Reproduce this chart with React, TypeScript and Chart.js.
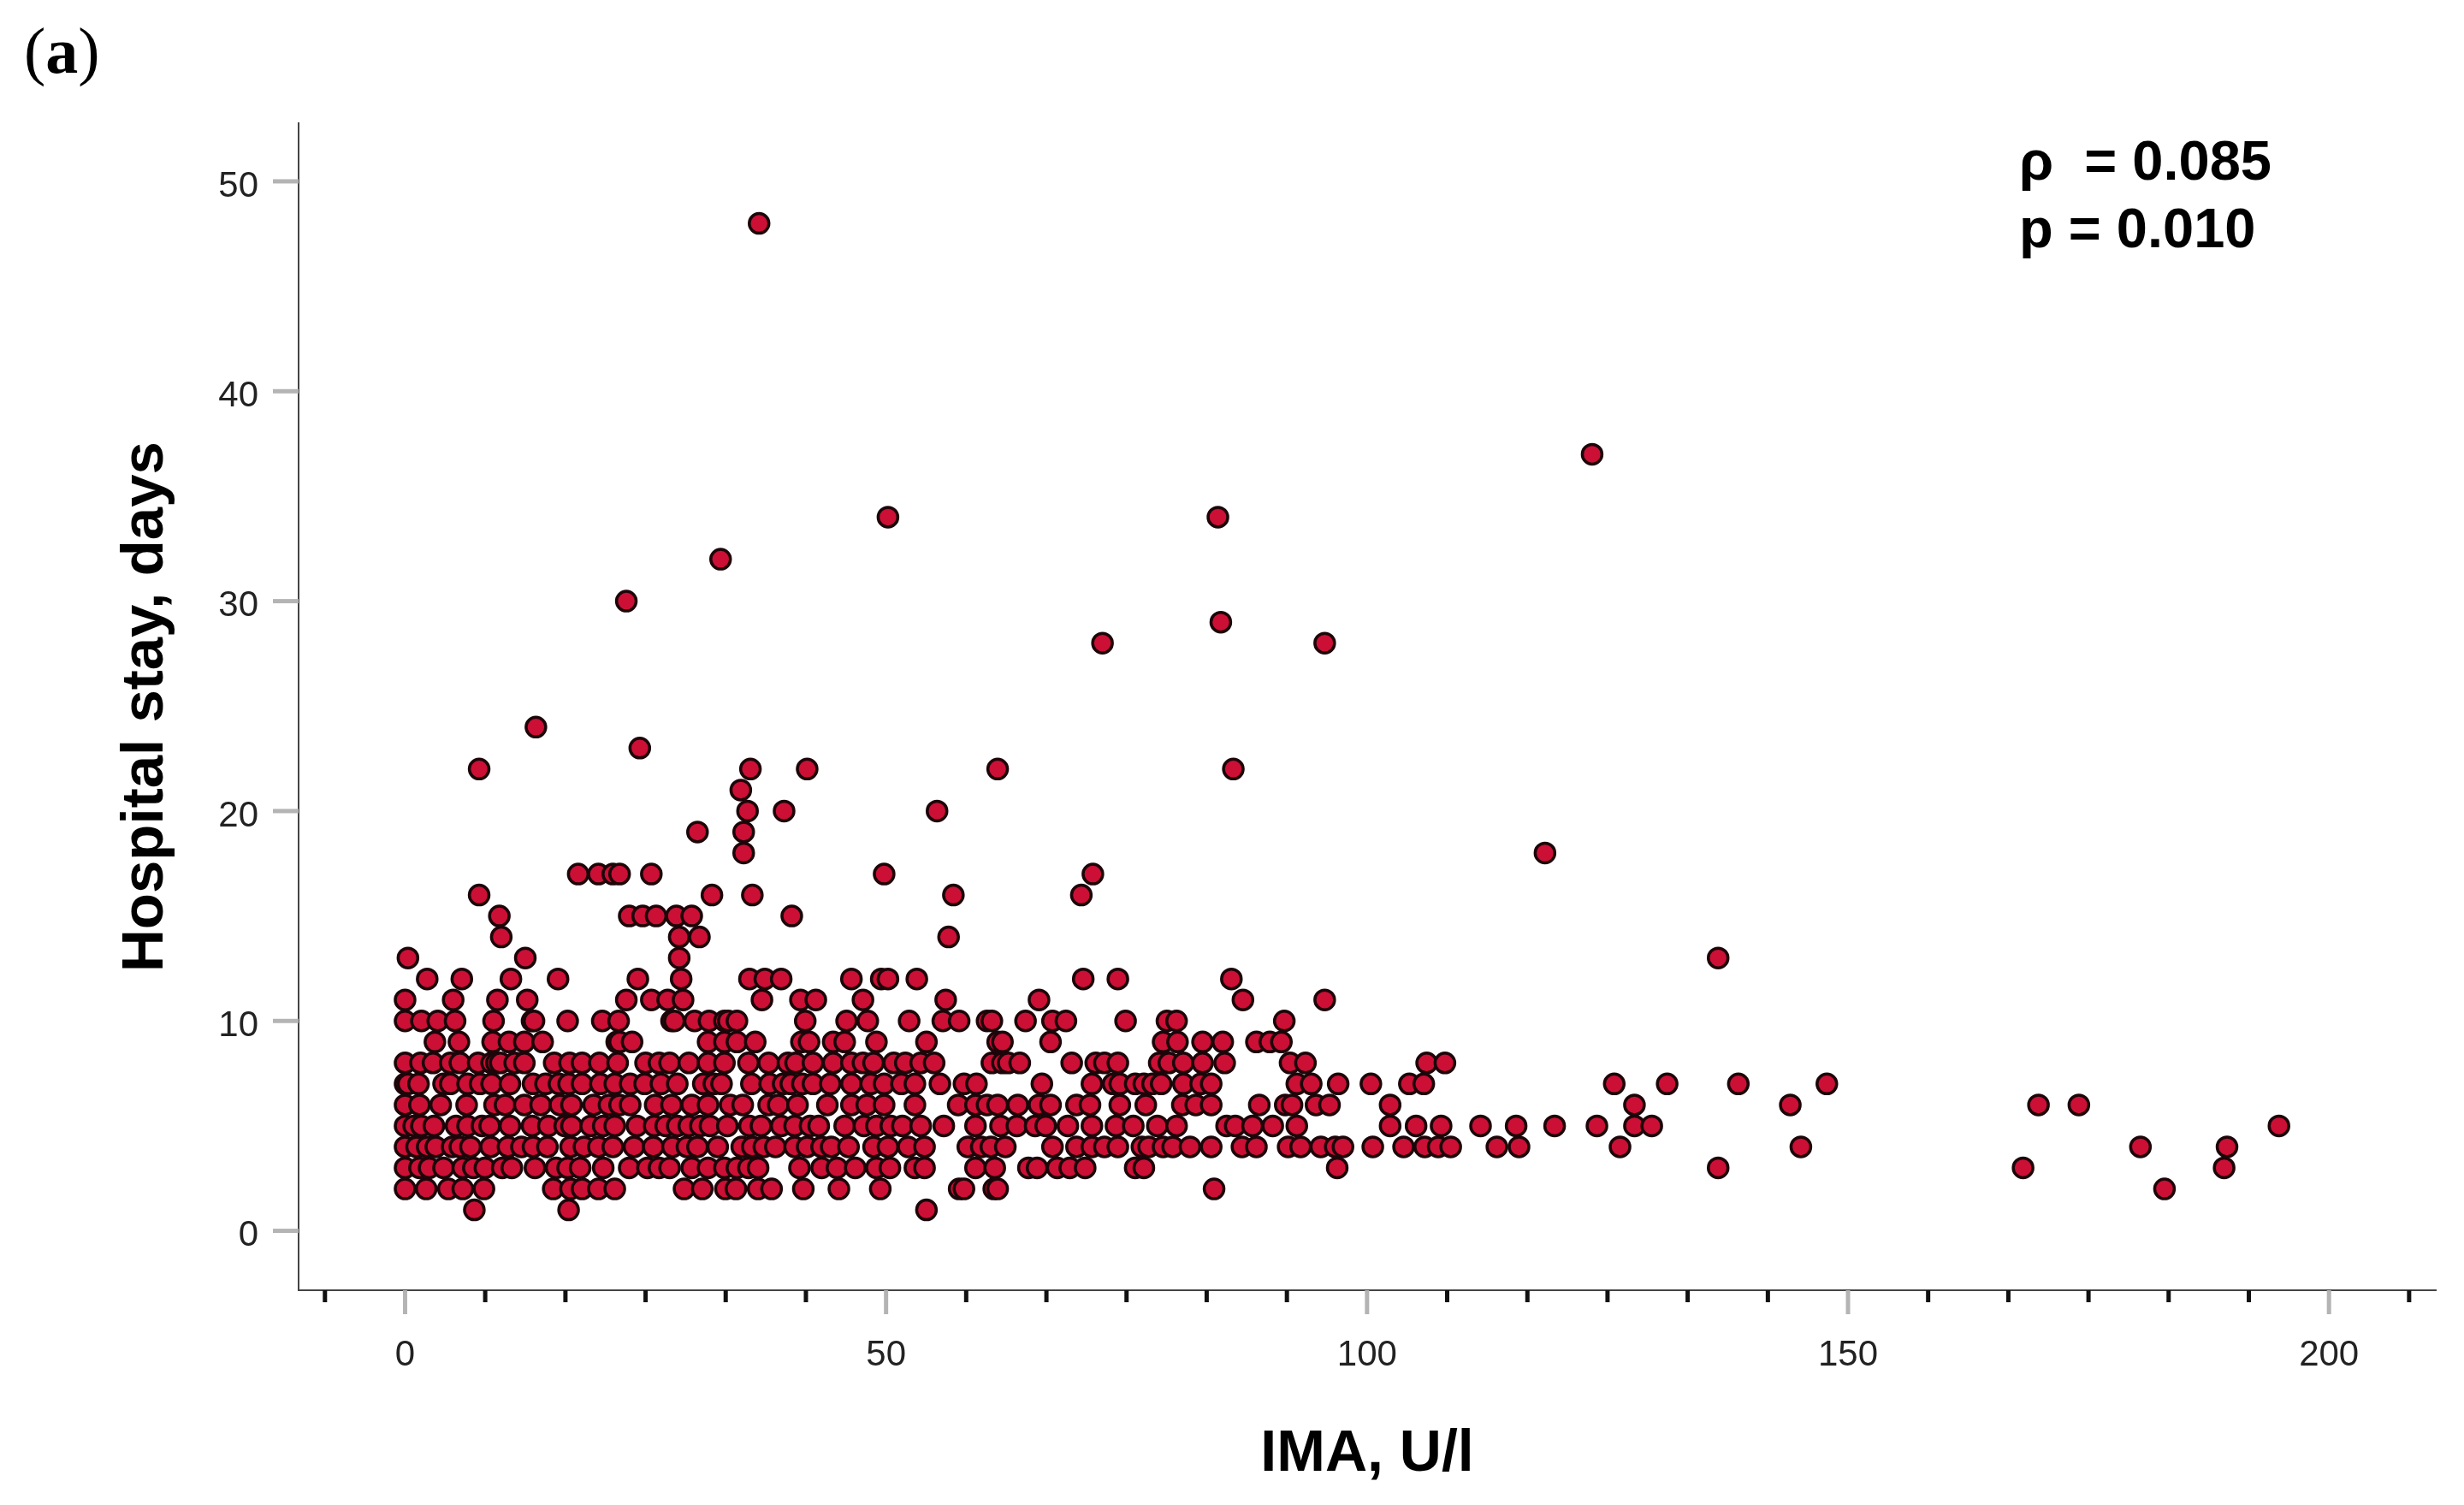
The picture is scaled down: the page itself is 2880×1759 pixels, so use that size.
import React, { useEffect, useRef } from "react";
import { Chart, registerables } from "chart.js";

Chart.register(...registerables);

const stay1 = [7.2, 17, 54.2];
const stay2 = [0, 2.2, 4.5, 6, 8.2, 15.4, 17.2, 18.4, 20.1, 21.8, 29, 30.9, 33.3, 34.4, 36.7, 38.1, 41.4, 45.1, 49.4, 57.6, 58.1, 61.2, 61.6, 84.1, 182.9];
const stay3 = [0, 1.5, 2.5, 4, 6, 7.1, 8.3, 10.1, 11.1, 13.5, 15.7, 16.9, 18.2, 20.6, 23.3, 25.2, 26.4, 27.5, 29.8, 31.5, 33.2, 34.5, 35.7, 36.7, 41, 43.3, 44.9, 46.8, 49, 50.4, 53, 54, 59.3, 61.3, 64.8, 65.7, 67.8, 69.1, 70.7, 75.9, 76.8, 96.9, 136.5, 168.2, 189.1];
const stay4 = [0, 1.2, 2.3, 3.2, 4.9, 5.7, 6.8, 8.9, 10.7, 12.1, 13.3, 14.8, 17.2, 18.6, 20.1, 21.6, 23.8, 25.8, 27.8, 29.3, 30.4, 32.5, 35, 36.1, 37.3, 38.5, 40.5, 41.8, 43.3, 44.3, 46.1, 48.7, 50.2, 52.3, 54, 58.5, 59.9, 60.9, 62.4, 67.3, 69.8, 71.4, 72.7, 74.1, 76.6, 77.3, 78.8, 79.8, 81.6, 83.8, 87, 88.5, 91.8, 93.1, 95.2, 96.7, 97.5, 100.6, 103.8, 106, 107.4, 108.7, 113.5, 115.8, 126.3, 145.1, 180.4, 189.4];
const stay5 = [0, 0.9, 1.7, 3, 5.3, 6.5, 8, 8.8, 10.9, 13.2, 14.9, 16.6, 17.3, 19.3, 20.6, 21.8, 24.1, 25.9, 27.1, 28.3, 29.5, 30.7, 31.7, 33.5, 35.8, 37, 39.1, 40.5, 42.1, 43, 45.7, 47.7, 49, 50.5, 51.7, 53.6, 56, 59.3, 61.9, 63.6, 65.5, 66.6, 68.9, 71.4, 73.9, 75.7, 78.2, 80.2, 85.4, 86.3, 88.1, 90.2, 92.7, 102.4, 105.1, 107.7, 111.8, 115.5, 119.5, 123.9, 127.8, 129.6, 194.8];
const stay6 = [0, 1.5, 3.7, 6.4, 9.3, 10.4, 12.4, 14.1, 16.1, 17.3, 19.6, 21.2, 22.3, 23.4, 26, 27.7, 29.8, 31.5, 33.8, 35.1, 37.8, 38.8, 40.8, 43.9, 46.4, 48, 49.8, 53, 57.5, 59.3, 60.5, 61.6, 63.7, 65.9, 67.1, 69.8, 71.2, 74.3, 77, 80.8, 82.2, 83.8, 88.8, 91.5, 92.2, 94.7, 96.1, 102.4, 127.8, 144, 169.8, 174];
const stay7 = [0, 0.3, 1.4, 4, 4.7, 6.5, 7.8, 9, 10.9, 13.3, 14.6, 16, 17, 18.4, 20.3, 21.8, 23.4, 24.9, 26.6, 28.3, 31, 32.1, 32.9, 36, 37.9, 39.3, 40.1, 41.3, 42.4, 44.2, 46.4, 48.4, 49.8, 51.6, 53, 55.6, 58.1, 59.4, 66.2, 71.4, 73.6, 74.3, 75.9, 76.8, 77.7, 78.6, 80.9, 82.7, 83.8, 92.7, 94.2, 97, 100.4, 104.4, 105.9, 125.7, 131.2, 138.6, 147.8];
const stay8 = [0, 1.6, 2.9, 4.7, 5.7, 7.6, 9, 9.5, 9.9, 11.4, 12.4, 15.5, 17.1, 18.4, 20.2, 22.1, 25, 26.4, 27.5, 29.5, 31.5, 33.2, 35.7, 37.8, 39.8, 40.6, 42.4, 44.5, 46.4, 47.6, 48.7, 50.8, 52, 53.6, 55, 61, 62.1, 62.7, 63.9, 69.3, 71.8, 72.7, 74.1, 78.4, 79.4, 80.9, 82.9, 85.2, 92, 93.6, 106.2, 108.1];
const stay9 = [3.1, 5.6, 9.1, 10.8, 12.4, 14.3, 22, 22.3, 23.6, 31.5, 33.2, 34.5, 36.4, 41.2, 42, 44.5, 45.7, 49, 54.2, 61.6, 62.1, 67.1, 78.8, 80.3, 82.9, 85, 88.5, 89.9, 91.1];
const stay10 = [0, 1.7, 3.4, 5.2, 9.2, 13.2, 13.4, 16.9, 20.5, 22.2, 27.7, 28, 30.1, 31.6, 33.2, 33.6, 34.5, 41.6, 45.9, 48.1, 52.4, 55.9, 57.6, 60.5, 61, 64.5, 67.3, 68.7, 74.9, 79.2, 80.2, 91.4];
const stay11 = [0, 5, 9.6, 12.7, 23, 25.6, 27.3, 28.9, 37.1, 41.1, 42.7, 47.6, 56.2, 65.9, 87.1, 95.6];
const stay12 = [2.3, 5.9, 11, 15.9, 24.2, 28.7, 35.8, 37.4, 39.1, 46.4, 49.5, 50.2, 53.2, 70.5, 74.1, 85.9];
const stay13 = [0.3, 12.5, 28.5, 136.5];
const stay14 = [10, 28.5, 30.6, 56.5];
const stay15 = [9.8, 23.3, 24.7, 26.1, 28.2, 29.8, 40.2];
const stay16 = [7.7, 31.9, 36.1, 57, 70.3];
const stay17 = [18, 20.1, 21.6, 22.3, 25.6, 49.8, 71.5];
const stay18 = [35.2, 118.5];
const stay19 = [30.4, 35.2];
const stay20 = [35.6, 39.4, 55.3];
const stay21 = [34.9];
const stay22 = [7.7, 35.9, 41.8, 61.6, 86.1];
const stay23 = [24.4];
const stay24 = [13.6];
const stay28 = [72.5, 95.6];
const stay29 = [84.8];
const stay30 = [23];
const stay32 = [32.8];
const stay34 = [50.2, 84.5];
const stay37 = [123.4];
const stay48 = [36.8];

const rows: [number, number[]][] = [
  [1, stay1], [2, stay2], [3, stay3], [4, stay4], [5, stay5], [6, stay6], [7, stay7], [8, stay8],
  [9, stay9], [10, stay10], [11, stay11], [12, stay12], [13, stay13], [14, stay14], [15, stay15],
  [16, stay16], [17, stay17], [18, stay18], [19, stay19], [20, stay20], [21, stay21], [22, stay22],
  [23, stay23], [24, stay24], [28, stay28], [29, stay29], [30, stay30], [32, stay32], [34, stay34],
  [37, stay37], [48, stay48],
];

const xMajorTicks = [0, 50, 100, 150, 200];
const xMinorTicks = [-8.33, 8.33, 16.67, 25, 33.33, 41.67, 58.33, 66.67, 75, 83.33, 91.67, 108.33, 116.67, 125, 133.33, 141.67, 158.33, 166.67, 175, 183.33, 191.67, 208.33];
const yMajorTicks = [0, 10, 20, 30, 40, 50];
const xTitle = "IMA, U/l";
const yTitle = "Hospital stay, days";
const statLines = ["ρ  = 0.085", "p = 0.010"];

const SANS = "'Liberation Sans', Arial, sans-serif";
const SERIF = "'Liberation Serif', 'Times New Roman', serif";

const decorPlugin = {
  id: "decor",
  afterDatasetsDraw(chart: any) {
    const { ctx, scales } = chart;
    const { x, y } = scales;
    ctx.save();
    ctx.lineCap = "butt";
    ctx.strokeStyle = "#111111";
    ctx.lineWidth = 5;
    for (const v of xMinorTicks) {
      const px = x.getPixelForValue(v);
      ctx.beginPath(); ctx.moveTo(px, y.bottom); ctx.lineTo(px, y.bottom + 14); ctx.stroke();
    }
    ctx.strokeStyle = "#b4b4b4";
    for (const v of xMajorTicks) {
      const px = x.getPixelForValue(v);
      ctx.beginPath(); ctx.moveTo(px, y.bottom); ctx.lineTo(px, y.bottom + 28); ctx.stroke();
    }
    for (const v of yMajorTicks) {
      const py = y.getPixelForValue(v);
      ctx.beginPath(); ctx.moveTo(x.left - 30, py); ctx.lineTo(x.left, py); ctx.stroke();
    }
    ctx.fillStyle = "#000000";
    ctx.textBaseline = "middle";
    ctx.textAlign = "left";
    ctx.font = `bold 65px ${SANS}`;
    ctx.fillText(statLines[0], 2360, 192);
    ctx.fillText(statLines[1], 2360, 271);
    ctx.textBaseline = "alphabetic";
    let cx = 28;
    const base = 85;
    ctx.font = `76px ${SERIF}`;
    ctx.fillText("(", cx, base); cx += ctx.measureText("(").width;
    ctx.font = `bold 76px ${SERIF}`;
    ctx.fillText("a", cx, base); cx += ctx.measureText("a").width;
    ctx.font = `76px ${SERIF}`;
    ctx.fillText(")", cx, base);
    ctx.restore();
  },
};

export default function App() {
  const ref = useRef<HTMLCanvasElement>(null);
  useEffect(() => {
    const points = rows.flatMap(([stay, xs]) => xs.map((v) => ({ x: v, y: stay })));
    const chart = new Chart(ref.current as HTMLCanvasElement, {
      type: "scatter",
      data: {
        datasets: [{
          data: points,
          backgroundColor: "#cc0f35",
          borderColor: "#1c060a",
          borderWidth: 3.5,
          pointRadius: 11.5,
          pointHoverRadius: 11.5,
        }],
      },
      plugins: [decorPlugin],
      options: {
        animation: false,
        responsive: false,
        events: [],
        layout: { padding: { top: 144, right: 33, left: 0, bottom: 0 } },
        plugins: { legend: { display: false }, tooltip: { enabled: false } },
        scales: {
          x: {
            type: "linear",
            min: -11.07,
            max: 211.1,
            afterBuildTicks(s: any) { s.ticks = xMajorTicks.map((value) => ({ value })); },
            afterFit(s: any) { s.height = 251; s.paddingLeft = 0; s.paddingRight = 0; },
            grid: { drawOnChartArea: false, drawTicks: false },
            border: { display: true, color: "#444444", width: 2 },
            ticks: { autoSkip: false, maxRotation: 0, padding: 51, color: "#222222", font: { family: SANS, size: 42 } },
            title: { display: true, text: xTitle, color: "#000000", font: { family: SANS, size: 68, weight: "bold" }, padding: { top: 0, bottom: 18 } },
          },
          y: {
            type: "linear",
            min: -2.83,
            max: 52.77,
            afterBuildTicks(s: any) { s.ticks = yMajorTicks.map((value) => ({ value })); },
            afterFit(s: any) { s.width = 349; },
            grid: { drawOnChartArea: false, drawTicks: false },
            border: { display: true, color: "#444444", width: 2 },
            ticks: { autoSkip: false, padding: 47, labelOffset: 6, color: "#222222", font: { family: SANS, size: 42 } },
            title: { display: true, text: yTitle, color: "#000000", font: { family: SANS, size: 69, weight: "bold" }, padding: { top: 130, bottom: 0 } },
          },
        },
      },
    } as any);
    return () => chart.destroy();
  }, []);
  return (
    <div style={{ position: "absolute", left: 0, top: 0, width: 2880, height: 1759, background: "#ffffff" }}>
      <canvas ref={ref} width={2880} height={1759} style={{ display: "block" }} />
    </div>
  );
}
